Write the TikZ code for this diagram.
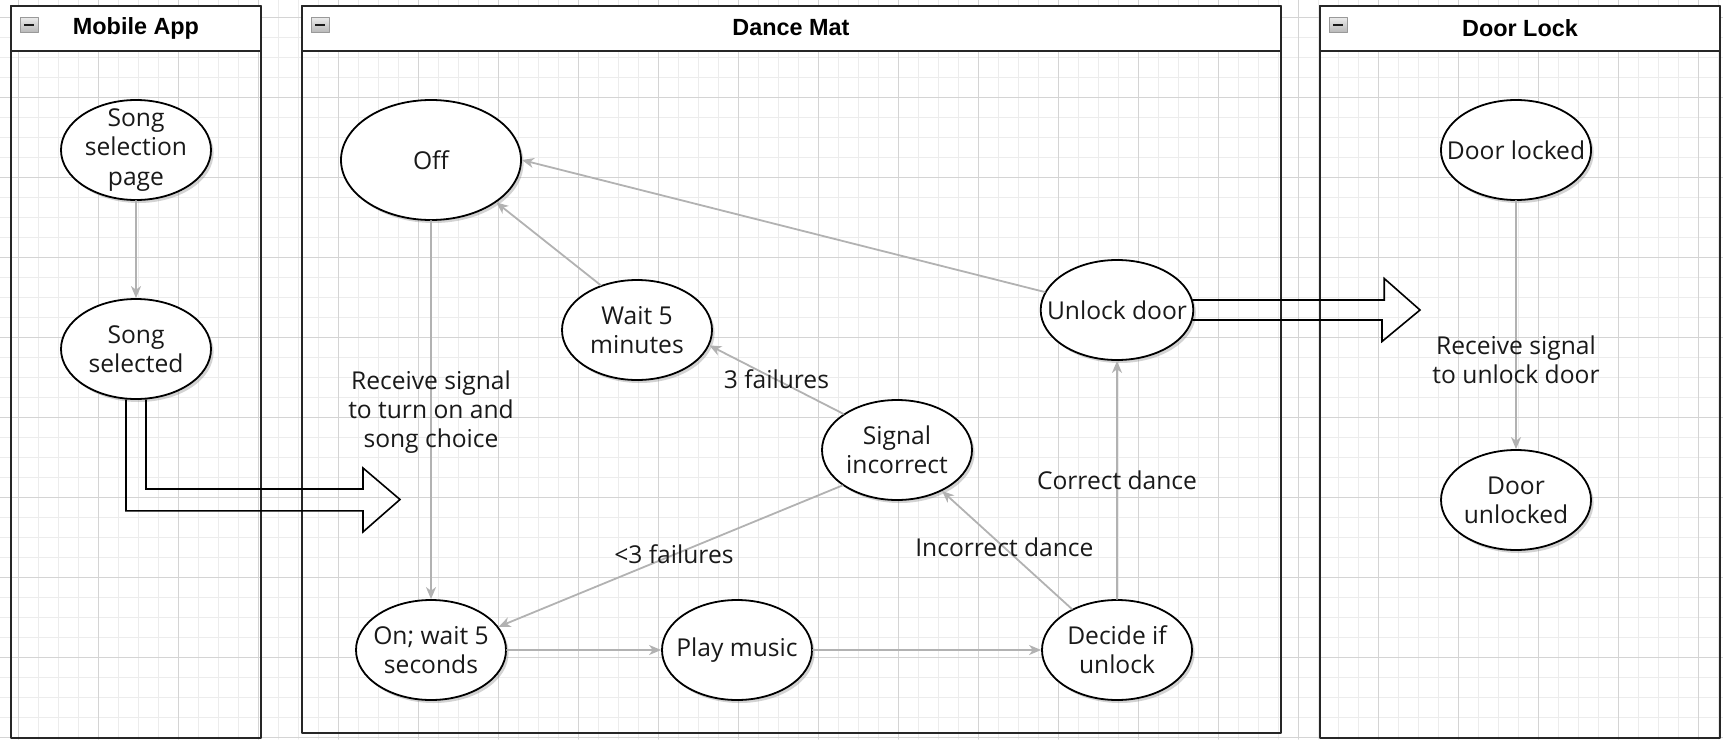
\documentclass[tikz,border=0pt]{standalone}
\usepackage{fontspec}
\setmainfont{Open Sans}
\newfontfamily\titlefont{Liberation Sans}
\usetikzlibrary{shapes.geometric,arrows.meta,shadows}

\definecolor{edgegray}{RGB}{178,178,178}
\definecolor{gridlight}{RGB}{236,236,236}
\definecolor{griddark}{RGB}{212,212,212}
\definecolor{inkgray}{RGB}{25,25,25}
\newcommand{\statefont}{\fontsize{12.3}{14.6}\selectfont}

\begin{document}
\begin{tikzpicture}[x=0.5pt,y=-0.5pt,line join=round,line cap=round]
	\tikzset{state/.style={ellipse,draw=black,fill=white,line width=0.9pt,minimum width=75pt,minimum height=50pt,inner sep=-8pt,align=center,text=inkgray,font=\statefont,drop shadow={shadow xshift=1.3pt,shadow yshift=-1.5pt,opacity=0.35}},
		flow/.style={draw=edgegray,line width=0.9pt,-{Stealth[length=6pt,width=5pt,inset=1.8pt]}},
		flowlabel/.style={font=\statefont,align=center,text=inkgray,inner sep=0pt},
		bigflow/.style={draw=black,line width=0.8pt,line join=miter},
		lane/.style={draw=black!85,line width=1pt},
		lanetitle/.style={font=\titlefont\bfseries\fontsize{11.7}{14}\selectfont},
		minusbox/.style={draw=gray!80,top color=gray!15,bottom color=gray!55,line width=0.4pt}}
	\useasboundingbox (0,0) rectangle (1723,739);
	% background grid
	\foreach \gx in {18,38,...,1718}
	\draw[gridlight,line width=0.5pt] (\gx,0)--(\gx,739);
	\foreach \gy in {17,37,...,737}
	\draw[gridlight,line width=0.5pt] (0,\gy)--(1723,\gy);
	\foreach \gx in {18,98,...,1698}
	\draw[griddark,line width=0.5pt] (\gx,0)--(\gx,739);
	\foreach \gy in {17,97,...,737}
	\draw[griddark,line width=0.5pt] (0,\gy)--(1723,\gy);
	% lanes
	\draw[lane] (11,6) rectangle (261,738);
	\draw[lane,fill=white] (11,6) rectangle (261,51);
	\draw[lane] (302,6) rectangle (1281,733);
	\draw[lane,fill=white] (302,6) rectangle (1281,51);
	\draw[lane] (1320,6) rectangle (1720,738);
	\draw[lane,fill=white] (1320,6) rectangle (1720,51);
	\foreach \lx in {20,311,1329}{
		\draw[minusbox] (\lx,17) rectangle (\lx+18,32);
		\draw[inkgray,line width=1pt,line cap=butt] (\lx+4,24.5)--(\lx+14,24.5);}
	\node[lanetitle] (apptitle) at (136,28) {Mobile App};
	\node[lanetitle] (mattitle) at (791,28) {Dance Mat};
	\node[lanetitle] (locktitle) at (1520,28) {Door Lock};
	% states
	\node[state] (selpage) at (136,150) {Song\\selection\\page};
	\node[state] (selected) at (136,349) {Song\\selected};
	\node[state,minimum width=90pt,minimum height=60pt] (off) at (431,160) {Off};
	\node[state] (wait5) at (637,330) {Wait 5\\minutes};
	\node[state] (sigwrong) at (897,450) {Signal\\incorrect};
	\node[state] (unlock) at (1117,310) {Unlock door};
	\node[state] (onwait) at (431,650) {On; wait 5\\seconds};
	\node[state] (play) at (737,650) {Play music};
	\node[state] (decide) at (1117,650) {Decide if\\unlock};
	\node[state] (locked) at (1516,150) {Door locked};
	\node[state] (unlocked) at (1516,500) {Door\\unlocked};
	% transitions
	\draw[flow] (selpage)--(selected);
	\draw[flow] (off)--(onwait) node[flowlabel,pos=0.505] {Receive signal\\to turn on and\\song choice};
	\draw[flow] (onwait)--(play);
	\draw[flow] (play)--(decide);
	\draw[flow] (decide)--(unlock) node[flowlabel,midway] {Correct dance};
	\draw[flow] (decide)--(sigwrong) node[flowlabel,pos=0.52] {Incorrect dance};
	\draw[flow] (sigwrong.146)--(wait5.-12) node[flowlabel,pos=0.5] {3 failures};
	\draw[flow] (sigwrong.213)--(onwait.19) node[flowlabel,pos=0.49] {<3 failures};
	\draw[flow] (wait5.129)--(off.-33);
	\draw[flow] (unlock.166)--(off.east);
	\draw[flow] (locked)--(unlocked) node[flowlabel,pos=0.64] {Receive signal\\to unlock door};
	% signals between lanes
	\coordinate (matin) at (400,499.5);
	\draw[bigflow] ([xshift=-5pt]selected.south)--++(0,111)--++(237,0)--++(0,21)--(matin)--++(-37,-31.5)--++(0,21)--++(-217,0)--([xshift=5pt]selected.south);
	\coordinate (lockin) at (1420,310);
	\draw[bigflow] ([shift={(-1.5,-10)}]unlock.east)--++(191.5,0)--++(0,-21.5)--(lockin)--++(-38,31.5)--++(0,-21.5)--([shift={(-1.5,10)}]unlock.east);
\end{tikzpicture}
\end{document}
